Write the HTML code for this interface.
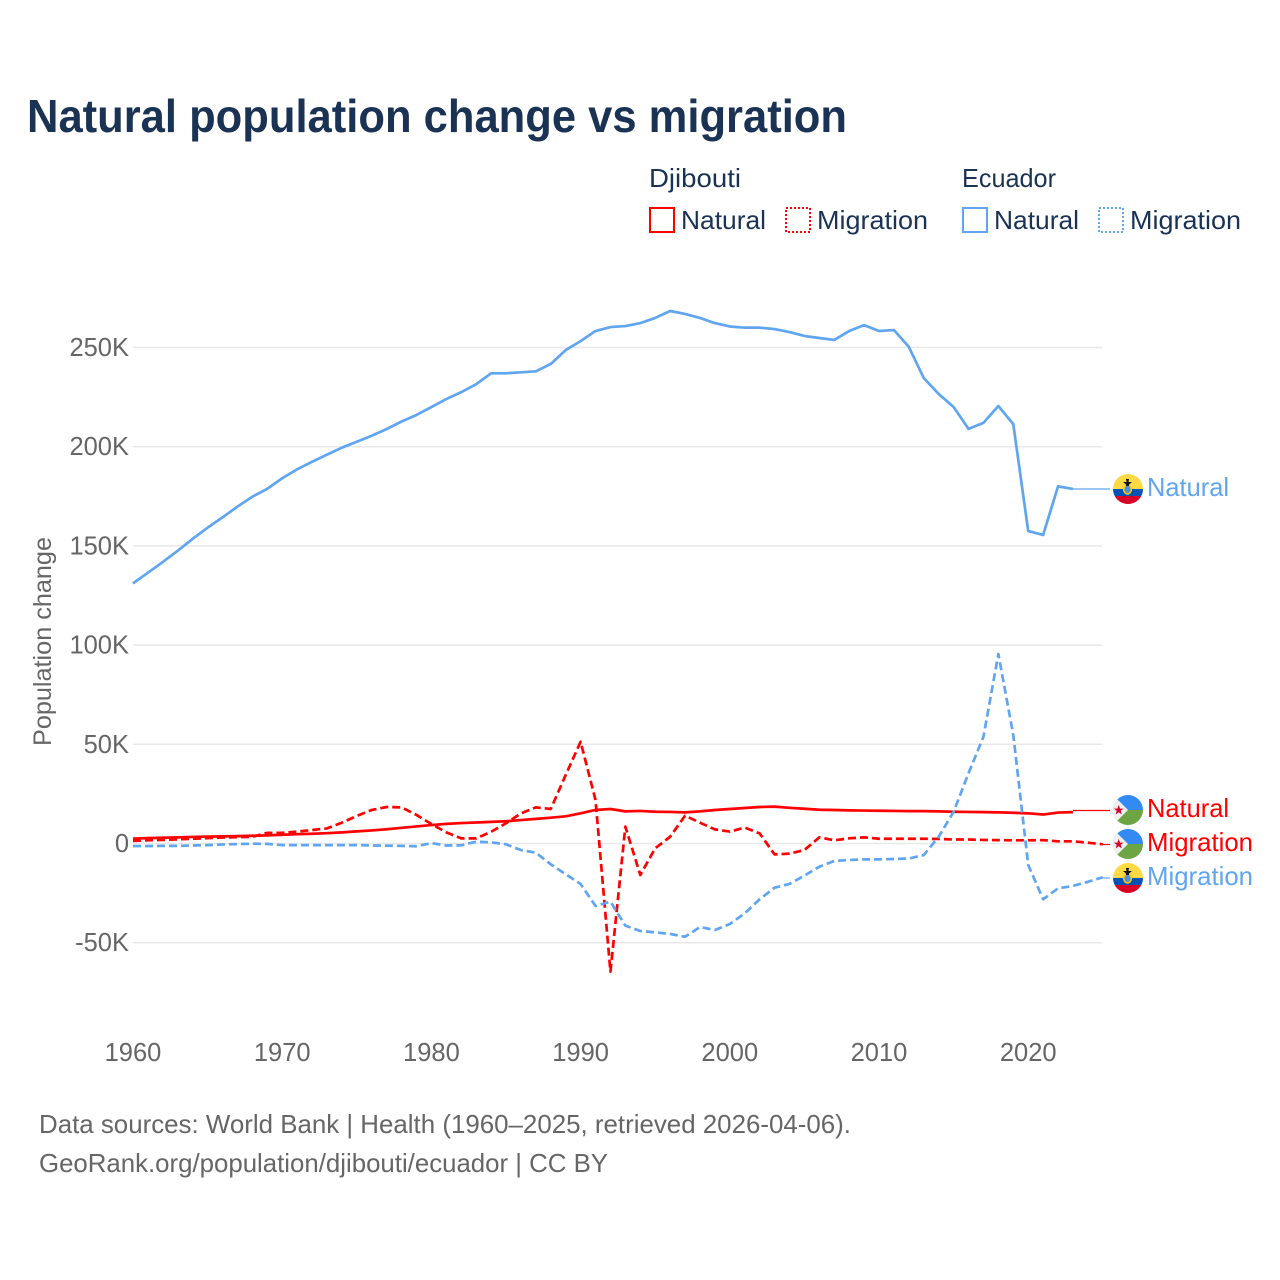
<!DOCTYPE html>
<html lang="en">
<head>
<meta charset="utf-8">
<title>Natural population change vs migration</title>
<style>
html,body{margin:0;padding:0;background:#fff;}
svg{display:block;font-family:"Liberation Sans",sans-serif;}
</style>
</head>
<body>
<svg id="chart" xmlns="http://www.w3.org/2000/svg" width="1280" height="1280" viewBox="0 0 1280 1280">
  <defs>
    <clipPath id="flag-clip"><circle cx="0" cy="0" r="15"/></clipPath>
  </defs>
  <rect width="1280" height="1280" fill="#fff"/>
  <text x="27" y="132" font-size="46" font-weight="700" fill="#1a3254" textLength="820" lengthAdjust="spacingAndGlyphs">Natural population change vs migration</text>

  <g font-size="26" fill="#1a3254">
    <text x="649" y="187" textLength="92" lengthAdjust="spacingAndGlyphs">Djibouti</text>
    <text x="962" y="187" textLength="94" lengthAdjust="spacingAndGlyphs">Ecuador</text>
    <rect x="650" y="208" width="24" height="24" fill="none" stroke="#ff0000" stroke-width="2"/>
    <text x="681" y="229" textLength="85" lengthAdjust="spacingAndGlyphs">Natural</text>
    <rect x="786" y="208" width="24" height="24" fill="none" stroke="#ff0000" stroke-width="2" stroke-dasharray="2 2"/>
    <text x="817" y="229" textLength="111" lengthAdjust="spacingAndGlyphs">Migration</text>
    <rect x="963" y="208" width="24" height="24" fill="none" stroke="#60a5f0" stroke-width="2"/>
    <text x="994" y="229" textLength="85" lengthAdjust="spacingAndGlyphs">Natural</text>
    <rect x="1099" y="208" width="24" height="24" fill="none" stroke="#60a5f0" stroke-width="2" stroke-dasharray="2 2"/>
    <text x="1130" y="229" textLength="111" lengthAdjust="spacingAndGlyphs">Migration</text>
  </g>

  <g id="grid"></g>
  <g id="y-ticks"></g>
  <g id="x-ticks"></g>
  <text transform="translate(51,746) rotate(-90)" font-size="25" fill="#666" textLength="209" lengthAdjust="spacingAndGlyphs">Population change</text>
  <g id="series"></g>

  <g>
    <g transform="translate(1128,489)" clip-path="url(#flag-clip)">
      <rect x="-15" y="-15" width="30" height="15" fill="#ffda44"/><rect x="-15" y="0" width="30" height="7" fill="#0052b4"/><rect x="-15" y="7" width="30" height="8" fill="#d80027"/>
      <ellipse cx="-0.5" cy="0.5" rx="4.6" ry="5.2" fill="#ffc107"/><ellipse cx="-0.5" cy="0.5" rx="3" ry="3.6" fill="#4a90e2"/><path d="M-5-7L4-7L1-4.5L1-3L-2-3L-2-4.5ZM-2-10L1-10L0.5-7L-1.5-7Z" fill="#111"/>
    </g>
    <text x="1147" y="496" font-size="26" fill="#60a5f0" textLength="82" lengthAdjust="spacingAndGlyphs">Natural</text>
  </g>
  <g>
    <g transform="translate(1128,810)" clip-path="url(#flag-clip)">
      <rect x="-15" y="-15" width="30" height="15" fill="#338af3"/><rect x="-15" y="0" width="30" height="15" fill="#6da544"/><path d="M-15-15L0 0L-15 15Z" fill="#f0f0f0"/>
      <path d="M-9.3-5L-8-1.4H-4.4L-7.3 0.8L-6.3 4.4L-9.3 2.2L-12.3 4.4L-11.3 0.8L-14.2-1.4H-10.6Z" fill="#d80027"/>
    </g>
    <text x="1147" y="817" font-size="26" fill="#ff0000" textLength="82" lengthAdjust="spacingAndGlyphs">Natural</text>
  </g>
  <g>
    <g transform="translate(1128,844)" clip-path="url(#flag-clip)">
      <rect x="-15" y="-15" width="30" height="15" fill="#338af3"/><rect x="-15" y="0" width="30" height="15" fill="#6da544"/><path d="M-15-15L0 0L-15 15Z" fill="#f0f0f0"/>
      <path d="M-9.3-5L-8-1.4H-4.4L-7.3 0.8L-6.3 4.4L-9.3 2.2L-12.3 4.4L-11.3 0.8L-14.2-1.4H-10.6Z" fill="#d80027"/>
    </g>
    <text x="1147" y="851" font-size="26" fill="#ff0000" textLength="106" lengthAdjust="spacingAndGlyphs">Migration</text>
  </g>
  <g>
    <g transform="translate(1128,878)" clip-path="url(#flag-clip)">
      <rect x="-15" y="-15" width="30" height="15" fill="#ffda44"/><rect x="-15" y="0" width="30" height="7" fill="#0052b4"/><rect x="-15" y="7" width="30" height="8" fill="#d80027"/>
      <ellipse cx="-0.5" cy="0.5" rx="4.6" ry="5.2" fill="#ffc107"/><ellipse cx="-0.5" cy="0.5" rx="3" ry="3.6" fill="#4a90e2"/><path d="M-5-7L4-7L1-4.5L1-3L-2-3L-2-4.5ZM-2-10L1-10L0.5-7L-1.5-7Z" fill="#111"/>
    </g>
    <text x="1147" y="885" font-size="26" fill="#60a5f0" textLength="106" lengthAdjust="spacingAndGlyphs">Migration</text>
  </g>

  <g font-size="26" fill="#666">
    <text x="39" y="1133" textLength="812" lengthAdjust="spacingAndGlyphs">Data sources: World Bank | Health (1960–2025, retrieved 2026-04-06).</text>
    <text x="39" y="1172" textLength="569" lengthAdjust="spacingAndGlyphs">GeoRank.org/population/djibouti/ecuador | CC BY</text>
  </g>
</svg>
<script>
const years = [1960,1961,1962,1963,1964,1965,1966,1967,1968,1969,1970,1971,1972,1973,1974,1975,1976,1977,1978,1979,1980,1981,1982,1983,1984,1985,1986,1987,1988,1989,1990,1991,1992,1993,1994,1995,1996,1997,1998,1999,2000,2001,2002,2003,2004,2005,2006,2007,2008,2009,2010,2011,2012,2013,2014,2015,2016,2017,2018,2019,2020,2021,2022,2023,2024,2025];
const xTickYears = [1960,1970,1980,1990,2000,2010,2020];
const yTickValues = [-50,0,50,100,150,200,250];
const yTickLabels = ["-50K","0","50K","100K","150K","200K","250K"];
const ecuadorNatural = [131.1,136.5,141.9,147.6,153.6,159.2,164.4,169.8,174.8,178.8,184.1,188.6,192.4,196,199.5,202.5,205.5,208.9,212.7,216,220,224,227.5,231.5,237,237,237.5,238,241.7,248.7,253.2,258.3,260.3,260.8,262.3,264.9,268.4,266.9,264.9,262.3,260.6,260,260,259.3,257.8,255.8,254.8,253.8,258.3,261.3,258.3,258.8,250.3,234.6,226.6,220,209,212,220.5,211.4,157.5,155.5,180,178.7];
const ecuadorMigration = [-1.3,-1.3,-1.2,-1.2,-1,-0.8,-0.5,-0.3,-0.1,-0.2,-0.8,-0.8,-0.8,-0.8,-0.8,-0.8,-1,-1.1,-1.2,-1.4,0.2,-1,-0.9,0.9,0.6,-0.4,-3.3,-4.6,-10.5,-15.5,-20.4,-31.5,-29.3,-41.4,-44.1,-44.8,-45.6,-47,-42.1,-43.6,-40.6,-35.2,-28.1,-22.3,-20.4,-16.2,-11.7,-8.8,-8.3,-8,-8,-7.8,-7.6,-5.8,3.4,16,35.4,53.8,95.5,54.7,-10.8,-28.1,-22.6,-21.4,-19.3,-17];
const djiboutiNatural = [2.5,2.7,2.9,3.1,3.3,3.5,3.6,3.7,3.9,4.1,4.4,4.7,4.9,5.2,5.6,6.1,6.6,7.2,7.9,8.6,9.3,9.9,10.3,10.6,10.9,11.2,11.8,12.4,13,13.7,15.2,16.9,17.4,16.2,16.4,16,15.9,15.7,16.2,16.9,17.4,17.9,18.4,18.6,18,17.5,17,16.9,16.7,16.6,16.5,16.4,16.3,16.3,16.2,16,15.9,15.8,15.7,15.5,15.2,14.6,15.6,15.8];
const djiboutiMigration = [1.3,1.6,1.8,2.1,2.4,2.7,3,3.2,3.4,5.4,5.4,6,6.8,7.6,10.5,13.9,16.9,18.4,18.2,14.4,9.8,5.6,2.6,2.6,5.9,10.2,15.2,18.2,17.4,34.5,51.3,21.9,-64.6,8.5,-15.9,-2.4,3.4,14,10.5,7.1,6,8,5.1,-5.5,-5.1,-3.3,3.1,1.6,2.6,3.1,2.4,2.4,2.4,2.4,2.3,2,2,1.8,1.7,1.6,1.6,1.7,1.1,1.1,0.4,-0.4];

const SVG_NS = "http://www.w3.org/2000/svg";
const RED = "#ff0000";
const BLUE = "#60a5f0";
const X0 = 133, X1 = 1102.8, Y0 = 843.5, PX_PER_K = 1.984;
function xScale(year) { return X0 + (year - 1960) * (X1 - X0) / 65; }
function yScale(k) { return Y0 - k * PX_PER_K; }
function make(tag, attrs, parent) {
  const el = document.createElementNS(SVG_NS, tag);
  for (const key in attrs) el.setAttribute(key, attrs[key]);
  parent.appendChild(el);
  return el;
}
const gridGroup = document.getElementById("grid");
const yTickGroup = document.getElementById("y-ticks");
yTickValues.forEach(function (value, i) {
  const line = make("line", { x1: X0, x2: X1 - 0.8, y1: yScale(value), y2: yScale(value), stroke: "#e8e8e8", "stroke-width": 1.5 }, gridGroup);
  
  
  const label = make("text", { x: 129, y: yScale(value) + 8.5, "font-size": 25.5, fill: "#666", "text-anchor": "end" }, yTickGroup);
  
  
  label.textContent = yTickLabels[i];
});
const xTickGroup = document.getElementById("x-ticks");
xTickYears.forEach(function (year) {
  const label = make("text", { x: xScale(year), y: 1061, "font-size": 25.5, fill: "#666", "text-anchor": "middle" }, xTickGroup);
  
  
  label.textContent = year;
});
const seriesGroup = document.getElementById("series");
function drawSeries(values, color, dash, name, flagY) {
  const d = values.map(function (v, i) {
    return (i ? "L" : "M") + xScale(years[i]).toFixed(2) + " " + yScale(v).toFixed(2);
  }).join("");
  const attrs = { d: d, fill: "none", stroke: color, "stroke-width": 2.7, "stroke-linejoin": "round" };
  if (dash) attrs["stroke-dasharray"] = dash;
  const path = make("path", attrs, seriesGroup);
  
  
  const lastYear = years[values.length - 1];
  const connector = make("line", { x1: xScale(lastYear), y1: flagY, x2: 1110, y2: flagY, stroke: color, "stroke-width": 1.2 }, seriesGroup);
  
  
}
drawSeries(djiboutiNatural, RED, null, "line-djibouti-natural", 810.5);
drawSeries(djiboutiMigration, RED, "8 4", "line-djibouti-migration", 844.5);
drawSeries(ecuadorNatural, BLUE, null, "line-ecuador-natural", 489);
drawSeries(ecuadorMigration, BLUE, "8 4", "line-ecuador-migration", 878);
</script>
</body>
</html>
